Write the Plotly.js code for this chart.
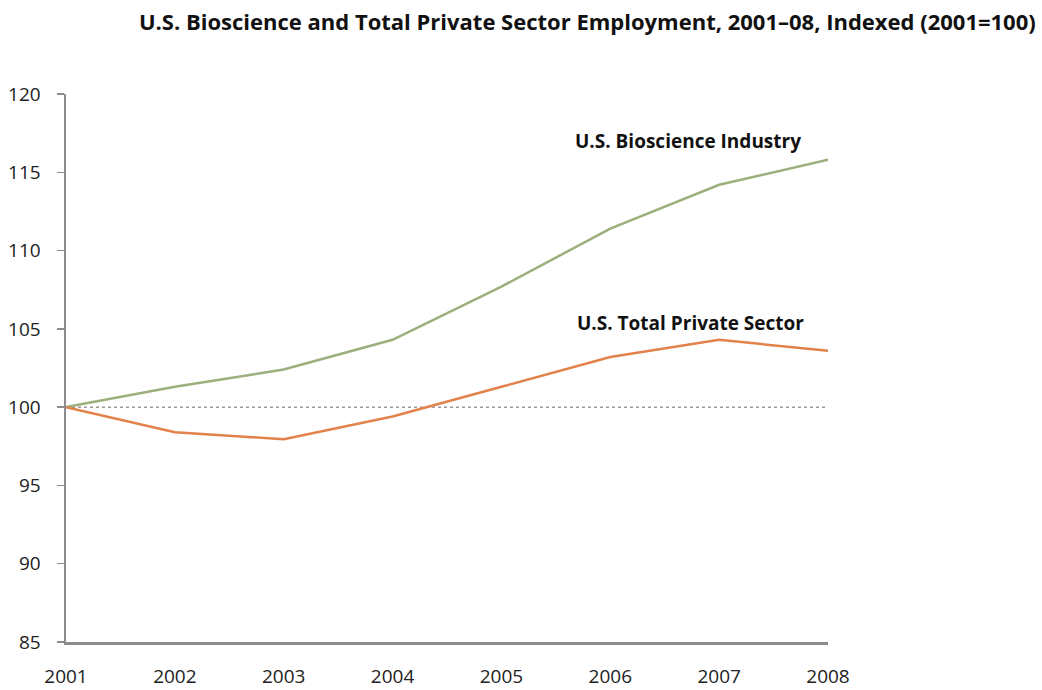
<!DOCTYPE html>
<html>
<head>
<meta charset="utf-8">
<script src="https://cdn.plot.ly/plotly-3.0.1.min.js"></script>
<style>html,body{margin:0;padding:0;background:#fff;}#chart{width:1042px;height:690px;}</style>
</head>
<body>
<div id="chart"></div>
<script>
const years = [2001, 2002, 2003, 2004, 2005, 2006, 2007, 2008];
const bioscience = [100, 101.3, 102.4, 104.3, 107.7, 111.4, 114.2, 115.8];
const privateSector = [100, 98.4, 97.95, 99.4, 101.3, 103.2, 104.3, 103.6];
const baseline = [100, 100];
const baselineYears = [2001, 2008];
const yTicks = [85, 90, 95, 100, 105, 110, 115, 120];

const FONT = '"Open Sans", Lato, sans-serif';
const traces = [
  {x: baselineYears, y: baseline, mode: 'lines', line: {color: '#9a9a9a', width: 1.5, dash: 'dot'}, hoverinfo: 'skip', showlegend: false},
  {x: years, y: bioscience, mode: 'lines', name: 'U.S. Bioscience Industry', line: {color: '#9caf7c', width: 2.5}},
  {x: years, y: privateSector, mode: 'lines', name: 'U.S. Total Private Sector', line: {color: '#e2824a', width: 2.5}}
];

const layout = {
  width: 1042, height: 690,
  margin: {l: 66, r: 214, t: 94, b: 48},
  paper_bgcolor: '#fff', plot_bgcolor: '#fff',
  showlegend: false,
  font: {family: FONT, color: '#222', size: 18},
  title: {text: 'U.S. Bioscience and Total Private Sector Employment, 2001–08, Indexed (2001=100)',
          font: {family: FONT, size: 22, color: '#111', weight: 'bold'},
          x: 0.994, xanchor: 'right', xref: 'container', y: 0.968, yanchor: 'middle', yref: 'container'},
  xaxis: {range: [2001, 2008], tickvals: years, ticktext: years.map(String), showgrid: false, zeroline: false,
          showline: true, linecolor: '#8c8c8c', linewidth: 2.5, ticks: '', ticklabelstandoff: 16,
          tickfont: {size: 19, color: '#222'}, fixedrange: true},
  yaxis: {range: [85, 120], tickvals: yTicks, showgrid: false, zeroline: false,
          showline: true, linecolor: '#8c8c8c', linewidth: 2.5, ticks: 'outside', ticklen: 7, tickwidth: 1.5,
          tickcolor: '#8c8c8c', ticklabelstandoff: 12, tickfont: {size: 19, color: '#222'}, fixedrange: true},
  annotations: [
    {x: 2005.66, y: 117.0, xref: 'x', yref: 'y', text: '<b>U.S. Bioscience Industry</b>', showarrow: false,
     xanchor: 'left', yanchor: 'middle', font: {size: 19, color: '#111'}},
    {x: 2005.68, y: 105.4, xref: 'x', yref: 'y', text: '<b>U.S. Total Private Sector</b>', showarrow: false,
     xanchor: 'left', yanchor: 'middle', font: {size: 19, color: '#111'}}
  ]
};

Plotly.newPlot('chart', traces, layout, {displayModeBar: false, staticPlot: true});
</script>
</body>
</html>
